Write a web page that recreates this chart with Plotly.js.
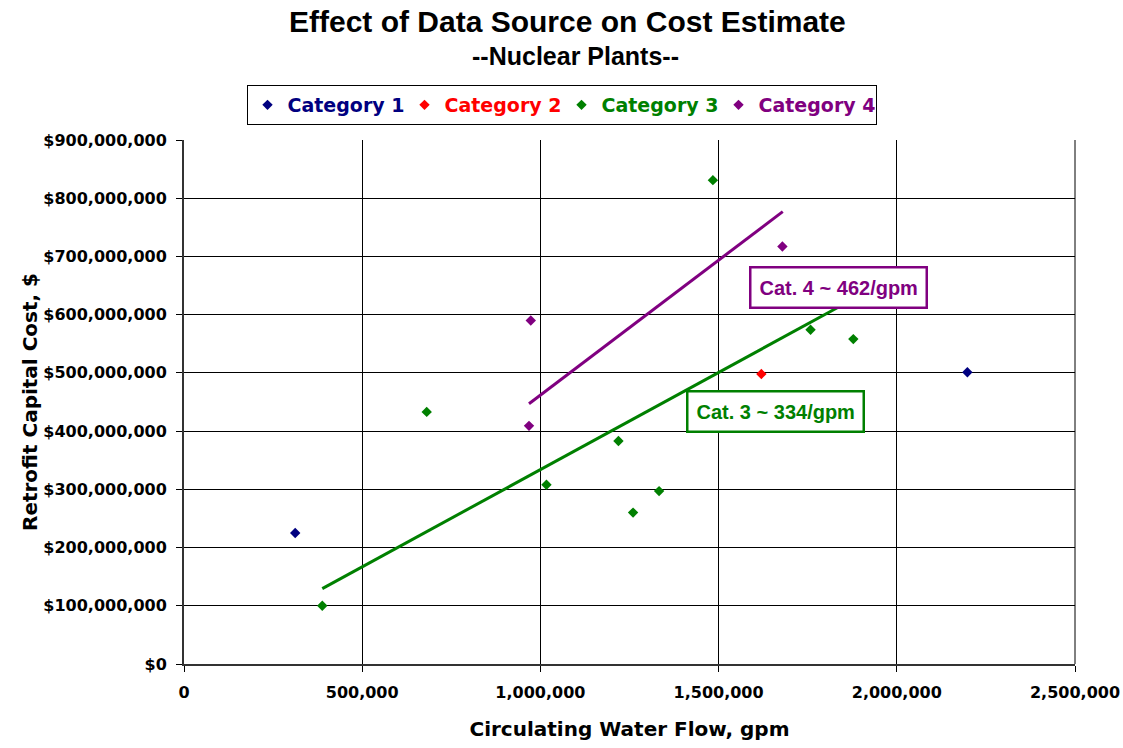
<!DOCTYPE html>
<html>
<head>
<meta charset="utf-8">
<script src="https://cdn.plot.ly/plotly-3.0.1.min.js"></script>
<style>html,body{margin:0;padding:0;background:#fff;}#chart{width:1123px;height:748px;}</style>
</head>
<body>
<div id="chart"></div>
<script>
// Data
const chartTitle = "Effect of Data Source on Cost Estimate";
const chartSubtitle = "--Nuclear Plants--";
const seriesNames = ["Category 1", "Category 2", "Category 3", "Category 4"];
const cat1Flow = [312000, 2198000];
const cat1Cost = [225000000, 501000000];
const cat2Flow = [1620000];
const cat2Cost = [498000000];
const cat3Flow = [388000, 681000, 1017000, 1219000, 1260000, 1333000, 1484000, 1758000, 1878000];
const cat3Cost = [100000000, 433000000, 308000000, 383000000, 260000000, 297000000, 831000000, 574000000, 558000000];
const cat4Flow = [968000, 973000, 1679000];
const cat4Cost = [409000000, 590000000, 717000000];
// Trend lines (end points)
const trend3Flow = [388000, 1878000];
const trend3Cost = [129500000, 627000000];
const trend4Flow = [968000, 1680000];
const trend4Cost = [447000000, 777000000];
const trendLabels = ["Cat. 3 ~ 334/gpm", "Cat. 4 ~ 462/gpm"];
const xTicks = [0, 500000, 1000000, 1500000, 2000000, 2500000];
const yTicks = [0, 100000000, 200000000, 300000000, 400000000, 500000000, 600000000, 700000000, 800000000, 900000000];

const colors = ["#000080", "#FF0000", "#008000", "#800080"];
const WIDE = "'DejaVu Sans', Verdana, sans-serif";
const ARIAL = "Arial, 'Liberation Sans', sans-serif";
const fmt = v => v.toLocaleString("en-US");

function pts(x, y, i) {
  return {
    type: "scatter", mode: "markers", x: x, y: y,
    name: '<span style="color:' + colors[i] + '">' + seriesNames[i] + '</span>',
    marker: {symbol: "diamond", size: 8, color: colors[i]},
    cliponaxis: false
  };
}
function trend(x, y, c) {
  return {type: "scatter", mode: "lines", x: x, y: y, showlegend: false,
          line: {color: c, width: 3}, hoverinfo: "skip"};
}

const data = [
  trend(trend3Flow, trend3Cost, colors[2]),
  trend(trend4Flow, trend4Cost, colors[3]),
  pts(cat1Flow, cat1Cost, 0),
  pts(cat2Flow, cat2Cost, 1),
  pts(cat3Flow, cat3Cost, 2),
  pts(cat4Flow, cat4Cost, 3)
];

const layout = {
  width: 1123, height: 748,
  margin: {l: 184, r: 48, t: 140, b: 84},
  paper_bgcolor: "#fff", plot_bgcolor: "#fff",
  font: {family: WIDE, color: "#000", weight: "bold"},
  showlegend: true,
  legend: {
    orientation: "h", x: 0.4237, xanchor: "center", y: 1.105, yanchor: "top",
    bgcolor: "#fff", bordercolor: "#000", borderwidth: 1,
    font: {family: WIDE, size: 19, weight: "bold"},
    itemwidth: 30, entrywidth: 112, traceorder: "normal"
  },
  xaxis: {
    range: [0, 2500000], tickmode: "array", tickvals: xTicks, ticktext: xTicks.map(fmt),
    showgrid: true, gridcolor: "#000", gridwidth: 1,
    showline: true, linecolor: "#333", linewidth: 2,
    ticks: "outside", ticklen: 6, tickcolor: "#000", ticklabelstandoff: 7,
    zeroline: false,
    tickfont: {family: WIDE, size: 16, weight: "bold"},
    title: {text: "Circulating Water Flow, gpm", font: {family: WIDE, size: 20, weight: "bold"}, standoff: 21}
  },
  yaxis: {
    range: [0, 900000000], tickmode: "array", tickvals: yTicks, ticktext: yTicks.map(v => "$" + fmt(v)),
    showgrid: true, gridcolor: "#000", gridwidth: 1,
    showline: true, linecolor: "#333", linewidth: 2,
    ticks: "outside", ticklen: 6, tickcolor: "#000", ticklabelstandoff: 6,
    zeroline: false,
    tickfont: {family: WIDE, size: 16, weight: "bold"},
    title: {text: "Retrofit Capital Cost, $", font: {family: WIDE, size: 20, weight: "bold"}, standoff: 0}
  },
  shapes: [
    {type: "line", xref: "paper", yref: "paper", x0: 1, x1: 1, y0: 0, y1: 1, line: {color: "#000", width: 1}}
  ],
  annotations: [
    {x: 0.4307, y: 1.2252, xref: "paper", yref: "paper", text: chartTitle, showarrow: false,
     xanchor: "center", yanchor: "middle",
     font: {family: ARIAL, size: 30, color: "#000", weight: "bold"}},
    {x: 0.4397, y: 1.1603, xref: "paper", yref: "paper", text: chartSubtitle, showarrow: false,
     xanchor: "center", yanchor: "middle",
     font: {family: ARIAL, size: 25, color: "#000", weight: "bold"}},
    {x: 1659000, y: 433400000, xref: "x", yref: "y", text: trendLabels[0], showarrow: false,
     font: {family: ARIAL, size: 20, color: colors[2], weight: "bold"},
     bgcolor: "#fff", bordercolor: colors[2], borderwidth: 2.5, borderpad: 8},
    {x: 1837600, y: 646700000, xref: "x", yref: "y", text: trendLabels[1], showarrow: false,
     font: {family: ARIAL, size: 20, color: colors[3], weight: "bold"},
     bgcolor: "#fff", bordercolor: colors[3], borderwidth: 2.5, borderpad: 8}
  ]
};

Plotly.newPlot("chart", data, layout, {displayModeBar: false, staticPlot: true});
</script>
</body>
</html>
